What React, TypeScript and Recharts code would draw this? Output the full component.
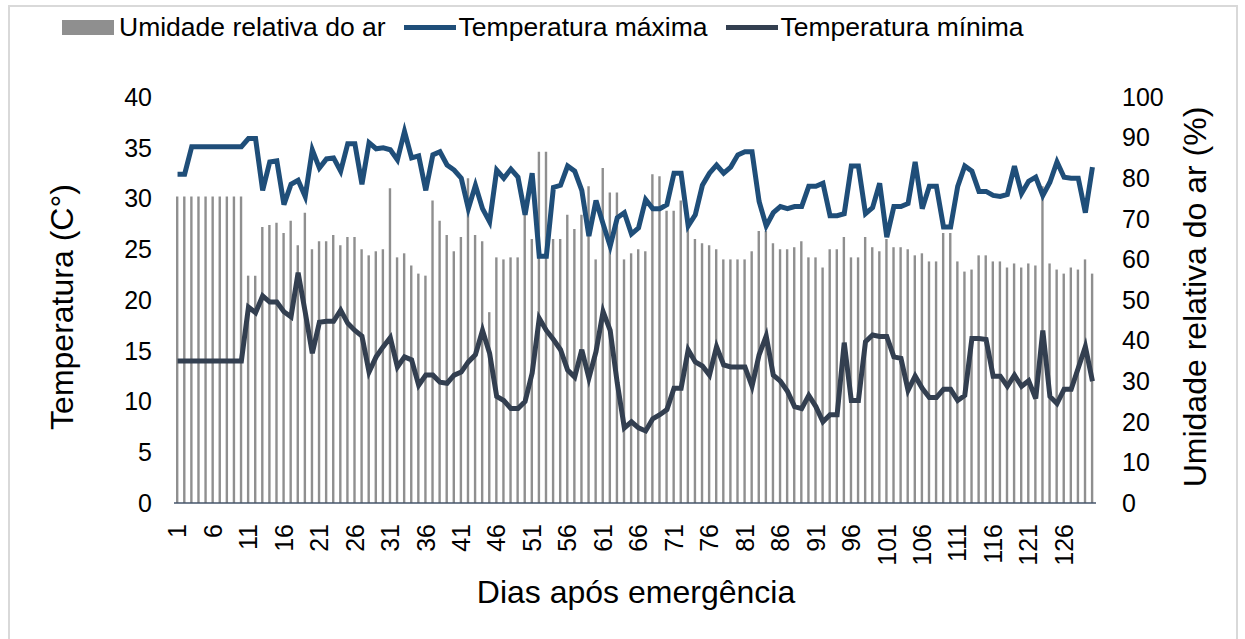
import { ComposedChart, Bar, Line, XAxis, YAxis } from 'recharts';

const FONT = '"Liberation Sans", Arial, sans-serif';

// dias após emergência (1..130)
const DAYS = Array.from({ length: 130 }, (_, i) => i + 1);

// umidade relativa do ar (%)
const HUMIDITY = [
  75.5, 75.5, 75.5, 75.5, 75.5, 75.5, 75.5, 75.5, 75.5, 75.5,
  56, 56, 68, 68.5, 69, 66.5, 69.5, 63.5, 71.5, 62.5,
  64.5, 64.5, 66, 63.5, 65.5, 65.5, 62.5, 61, 62, 62.5,
  77.5, 60.5, 61.5, 58.5, 56.5, 56, 74.5, 69.5, 66, 62,
  65.5, 80, 66, 64.5, 47, 60.5, 60, 60.5, 60.5, 71,
  65, 86.5, 86.5, 65, 65, 71, 67.5, 71, 78, 60,
  82.5, 76.5, 76.5, 60, 61.5, 62.5, 62, 81, 80.5, 72,
  72, 74.5, 68, 65, 64, 63.5, 62.5, 60, 60, 60,
  60, 62, 67, 67, 64, 62.5, 62.5, 63, 64.5, 60.5,
  60.5, 58, 62.5, 62.5, 65.5, 60.5, 60.5, 65.5, 63, 62,
  65, 63, 63, 62.5, 61, 61.5, 59.5, 59.5, 66.5, 66.5,
  59.5, 57, 57.5, 61, 61, 59.5, 59.5, 58, 59, 58,
  59, 58.5, 78, 59, 57.5, 56.5, 58, 57.5, 60, 56.5,
];

// temperatura máxima (°C)
const TEMP_MAX = [
  32.4, 32.4, 35.1, 35.1, 35.1, 35.1, 35.1, 35.1, 35.1, 35.1,
  35.9, 35.9, 30.8, 33.6, 33.7, 29.4, 31.4, 31.8, 30.2, 34.8,
  33.0, 33.9, 34.0, 32.7, 35.4, 35.4, 31.4, 35.5, 34.9, 35.0,
  34.8, 33.8, 36.6, 34.0, 34.2, 30.8, 34.3, 34.6, 33.3, 32.8,
  32.0, 29.0, 31.3, 29.0, 27.7, 32.8, 32.0, 32.9, 32.1, 28.4,
  32.5, 24.3, 24.3, 31.1, 31.3, 33.2, 32.7, 30.8, 26.3, 29.8,
  27.5, 25.3, 28.1, 28.6, 26.5, 27.1, 29.9, 29.0, 29.0, 29.4,
  32.5, 32.5, 27.3, 28.4, 31.3, 32.5, 33.3, 32.5, 33.1, 34.3,
  34.6, 34.6, 29.7, 27.3, 28.6, 29.2, 29.0, 29.2, 29.2, 31.2,
  31.2, 31.5, 28.3, 28.3, 28.5, 33.2, 33.2, 28.5, 29.1, 31.5,
  26.2, 29.2, 29.2, 29.5, 33.6, 29.0, 31.2, 31.2, 27.2, 27.2,
  31.2, 33.2, 32.7, 30.7, 30.7, 30.3, 30.2, 30.4, 33.2, 30.5,
  31.7, 32.1, 30.3, 31.6, 33.6, 32.1, 32.0, 32.0, 28.6, 33.1,
];

// temperatura mínima (°C)
const TEMP_MIN = [
  14.0, 14.0, 14.0, 14.0, 14.0, 14.0, 14.0, 14.0, 14.0, 14.0,
  19.3, 18.75, 20.4, 19.8, 19.8, 18.85, 18.35, 22.7, 18.8, 14.75,
  17.8, 17.9, 17.9, 19.0, 17.7, 17.0, 16.45, 12.9, 14.4, 15.4,
  16.3, 13.4, 14.4, 14.1, 11.6, 12.6, 12.6, 11.9, 11.8, 12.6,
  12.9, 13.9, 14.6, 17.0, 14.75, 10.5, 10.1, 9.3, 9.3, 10.0,
  12.8, 18.2, 17.0, 16.1, 15.1, 13.1, 12.4, 15.1, 12.3, 14.9,
  18.85, 17.0, 11.8, 7.4, 8.0, 7.4, 7.1, 8.3, 8.7, 9.2,
  11.3, 11.3, 15.1, 13.9, 13.5, 12.6, 15.4, 13.6, 13.4, 13.4,
  13.4, 11.5, 14.6, 16.45, 12.6, 12.0, 11.0, 9.5, 9.3, 10.6,
  9.5, 8.0, 8.7, 8.7, 15.8, 10.1, 10.1, 15.9, 16.55, 16.4,
  16.4, 14.4, 14.25, 11.1, 12.5, 11.3, 10.4, 10.4, 11.2, 11.2,
  10.1, 10.6, 16.2, 16.2, 16.1, 12.5, 12.5, 11.5, 12.6, 11.5,
  12.05, 10.3, 17.0, 10.5, 9.8, 11.2, 11.2, 13.3, 15.4, 12.0,
];

const TEMP_TICKS = [0, 5, 10, 15, 20, 25, 30, 35, 40];
const HUM_TICKS = [0, 10, 20, 30, 40, 50, 60, 70, 80, 90, 100];

const GRAY = '#8f8f8f';
const BLUE = '#1f4e79';
const SLATE = '#333f50';

const data = DAYS.map((day, i) => ({
  day,
  hum: HUMIDITY[i],
  tmax: TEMP_MAX[i],
  tmin: TEMP_MIN[i],
}));

function DayTick({ x, y, payload }: any) {
  return (
    <g transform={`translate(${x},${y})`}>
      <text transform="rotate(-90)" textAnchor="end" dy="0.35em" fontSize={25} fill="#000" fontFamily={FONT}>
        {payload.value}
      </text>
    </g>
  );
}

const legendText = { fontSize: 26.5, color: '#000', marginRight: 18, whiteSpace: 'nowrap' as const };

export default function App() {
  const tickStyle = { fontSize: 25, fill: '#000', fontFamily: FONT };
  return (
    <div style={{ position: 'absolute', left: 0, top: 0, width: 1245, height: 639, background: '#fff', fontFamily: FONT }}>
      <div style={{ position: 'absolute', left: 8, top: 5, width: 1230, height: 640, border: '2px solid #d9d9d9', boxSizing: 'border-box' }} />

      {/* legenda */}
      <div style={{ position: 'absolute', left: 62, top: 12, display: 'flex', alignItems: 'center', height: 30 }}>
        <div style={{ width: 52, height: 15, background: GRAY, marginRight: 5 }} />
        <span style={legendText}>Umidade relativa do ar</span>
        <div style={{ width: 52, height: 5, background: BLUE, marginRight: 3 }} />
        <span style={legendText}>Temperatura máxima</span>
        <div style={{ width: 52, height: 5, background: SLATE, marginRight: 3 }} />
        <span style={legendText}>Temperatura mínima</span>
      </div>

      <ComposedChart width={1245} height={639} data={data} margin={{ top: 97, right: 0, bottom: 0, left: 0 }}>
        <XAxis
          dataKey="day"
          interval={4}
          height={136}
          tickLine={false}
          tickSize={0}
          tickMargin={21}
          axisLine={{ stroke: '#44546a', strokeWidth: 1.5 }}
          tick={<DayTick />}
        />
        <YAxis
          yAxisId="temp"
          domain={[0, 40]}
          ticks={TEMP_TICKS}
          width={174}
          axisLine={false}
          tickLine={false}
          tickSize={0}
          tickMargin={22}
          tick={tickStyle}
        />
        <YAxis
          yAxisId="hum"
          orientation="right"
          domain={[0, 100]}
          ticks={HUM_TICKS}
          width={149}
          axisLine={false}
          tickLine={false}
          tickSize={0}
          tickMargin={26}
          tick={tickStyle}
        />
        <Bar yAxisId="hum" dataKey="hum" fill={GRAY} barSize={2.4} isAnimationActive={false} />
        <Line yAxisId="temp" type="linear" dataKey="tmax" stroke={BLUE} strokeWidth={5} dot={false} activeDot={false} isAnimationActive={false} />
        <Line yAxisId="temp" type="linear" dataKey="tmin" stroke={SLATE} strokeWidth={5} dot={false} activeDot={false} isAnimationActive={false} />
      </ComposedChart>

      {/* títulos dos eixos */}
      <div style={{ position: 'absolute', left: 62, top: 307, transform: 'translate(-50%, -50%) rotate(-90deg)', fontSize: 32, whiteSpace: 'nowrap', lineHeight: 1 }}>
        Temperatura (C°)
      </div>
      <div style={{ position: 'absolute', left: 1195, top: 297, transform: 'translate(-50%, -50%) rotate(-90deg)', fontSize: 32, whiteSpace: 'nowrap', lineHeight: 1 }}>
        Umidade relativa do ar (%)
      </div>
      <div style={{ position: 'absolute', left: 636, top: 592, transform: 'translate(-50%, -50%)', fontSize: 32, whiteSpace: 'nowrap', lineHeight: 1 }}>
        Dias após emergência
      </div>
    </div>
  );
}
